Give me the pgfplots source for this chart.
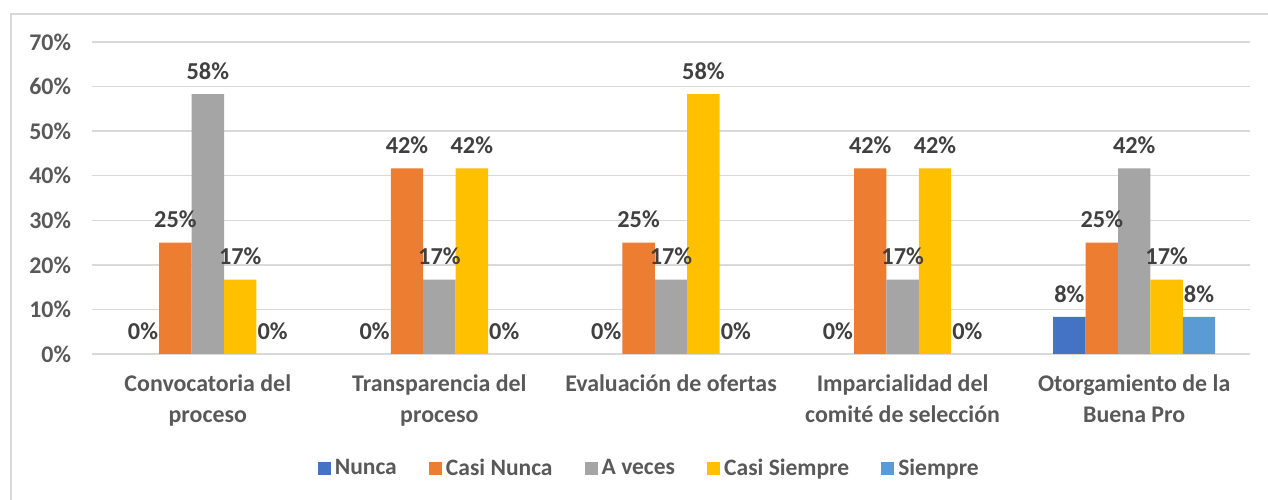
\documentclass[border=0pt]{standalone}
\usepackage{fontspec}
\setmainfont{Carlito}
\usepackage{pgfplots}
\pgfplotsset{compat=1.18}
\definecolor{cNunca}{HTML}{4472C4}
\definecolor{cCasiNunca}{HTML}{ED7D31}
\definecolor{cAveces}{HTML}{A5A5A5}
\definecolor{cCasiSiempre}{HTML}{FFC000}
\definecolor{cSiempre}{HTML}{5B9BD5}
\definecolor{gridc}{HTML}{D9D9D9}
\definecolor{textc}{HTML}{595959}
\definecolor{labc}{HTML}{404040}
\begin{document}
\begin{tikzpicture}
\path[use as bounding box] (0,0) rectangle (634bp,250bp);
\draw[color=gridc, line width=1bp] (5.5bp,0) -- (5.5bp,243bp) -- (634bp,243bp);
\begin{axis}[
  at={(46bp,73bp)}, anchor=south west,
  scale only axis, width=579bp, height=156bp,
  ymin=0, ymax=70, xmin=-0.5, xmax=4.5,
  ybar=0pt, bar width=16.2bp,
  /pgf/number format/assume math mode=true,
  xtick={0,1,2,3,4},
  xticklabels={{Convocatoria del\\proceso},{Transparencia del\\proceso},{Evaluación de ofertas},{Imparcialidad del\\comité de selección},{Otorgamiento de la\\Buena Pro}},
  ytick={0,10,20,30,40,50,60,70},
  yticklabels={0\%,10\%,20\%,30\%,40\%,50\%,60\%,70\%},
  ymajorgrids, grid style={gridc, line width=0.75bp},
  axis line style={draw=none}, major tick length=0pt,
  tick label style={font=\fontsize{12}{15}\selectfont\bfseries, text=textc},
  yticklabel style={anchor=east, xshift=-7bp},
  xticklabel style={align=center, anchor=north, yshift=-7bp, font=\fontsize{12}{15.5}\selectfont\bfseries},
  nodes near coords={\pgfmathprintnumber[fixed,precision=0]{\pgfplotspointmeta}\%},
  every node near coord/.append style={font=\fontsize{12.2}{15}\selectfont\bfseries, text=labc, anchor=south, yshift=3.8bp},
  legend columns=5,
  legend style={at={(0.482,-0.368)}, anchor=center, draw=none, fill=none,
    font=\fontsize{11.8}{14}\selectfont\bfseries, text=textc,
    /tikz/every even column/.append style={column sep=14bp}},
  legend image code/.code={\fill[#1] (0bp,-3.3bp) rectangle (6.6bp,3.3bp);},
  every axis plot/.append style={draw=none},
]
\addplot[fill=cNunca] coordinates {(0,0) (1,0) (2,0) (3,0) (4,8.33)};
\addplot[fill=cCasiNunca] coordinates {(0,25) (1,41.67) (2,25) (3,41.67) (4,25)};
\addplot[fill=cAveces] coordinates {(0,58.33) (1,16.67) (2,16.67) (3,16.67) (4,41.67)};
\addplot[fill=cCasiSiempre] coordinates {(0,16.67) (1,41.67) (2,58.33) (3,41.67) (4,16.67)};
\addplot[fill=cSiempre] coordinates {(0,0) (1,0) (2,0) (3,0) (4,8.33)};
\legend{Nunca,Casi Nunca,A veces,Casi Siempre,Siempre}
\end{axis}
\end{tikzpicture}
\end{document}
